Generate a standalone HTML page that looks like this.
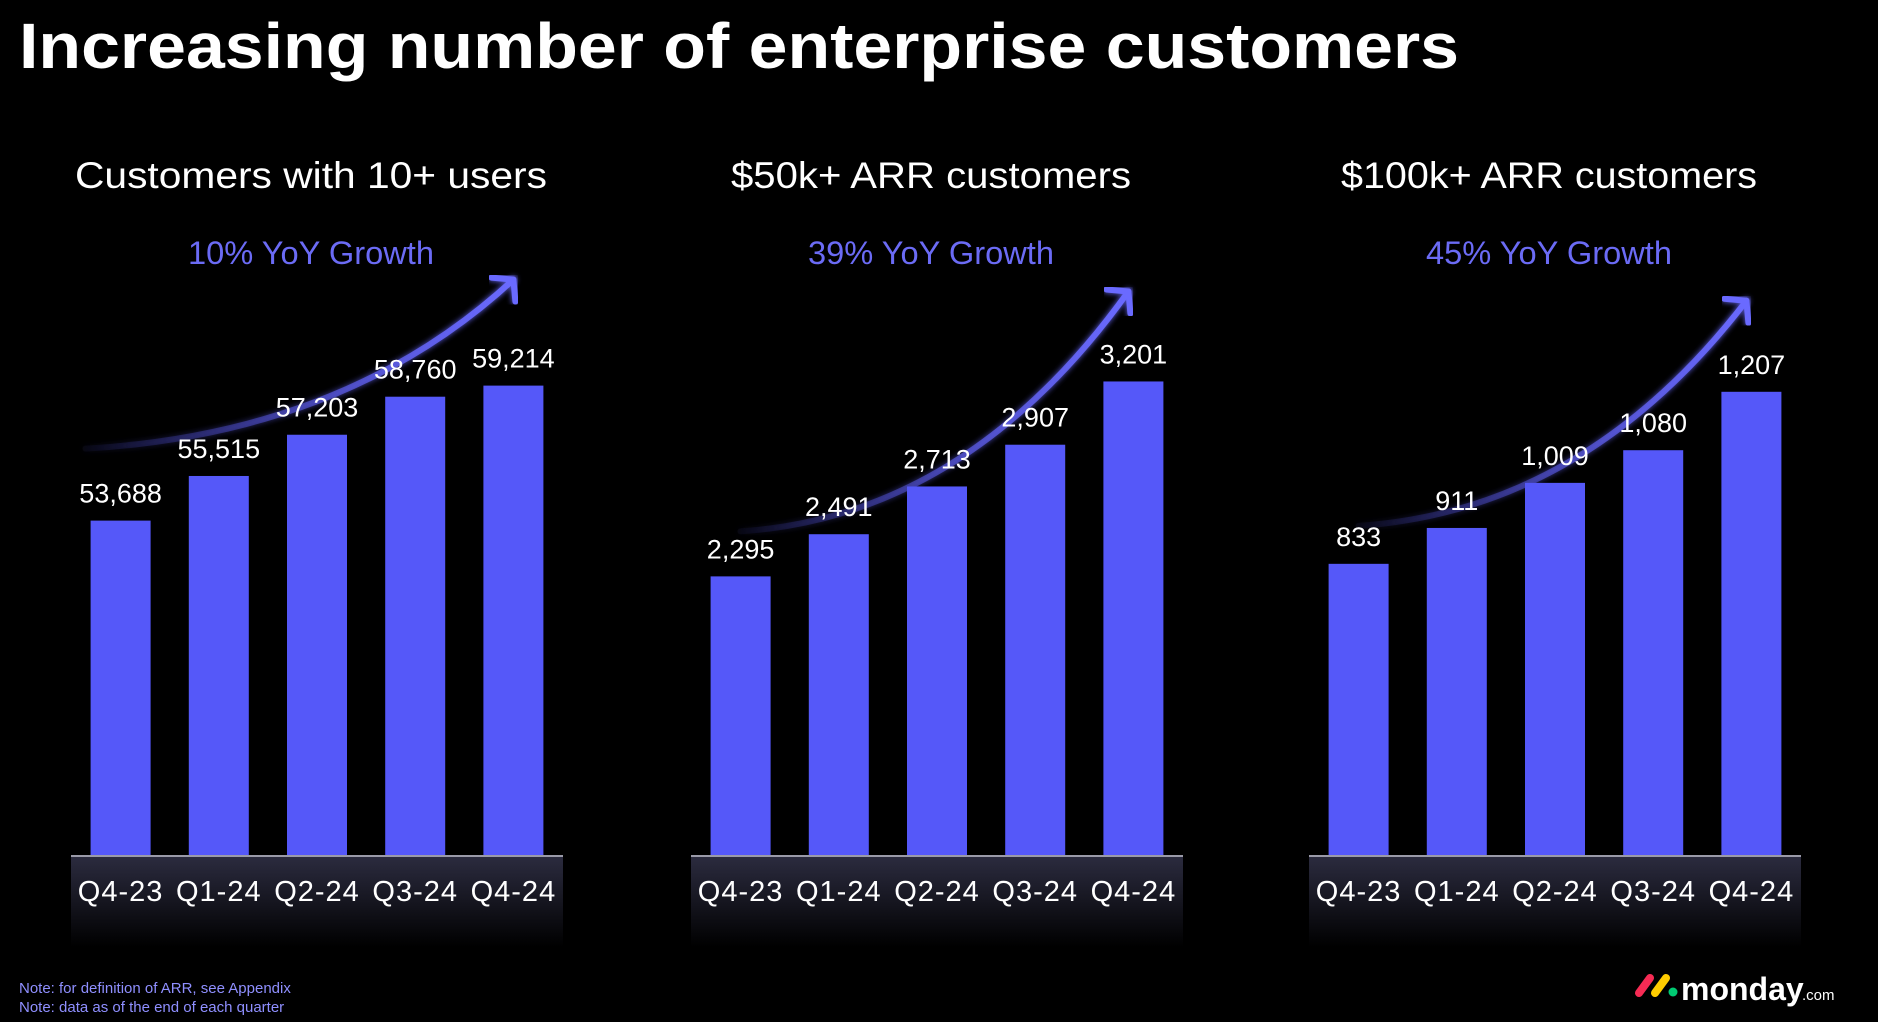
<!DOCTYPE html>
<html><head><meta charset="utf-8">
<style>
html,body{margin:0;padding:0;background:#000;}
body{width:1878px;height:1022px;overflow:hidden;position:relative;font-family:"Liberation Sans",sans-serif;}
svg{position:absolute;left:0;top:0;}
</style></head>
<body>
<svg id="chart" width="1878" height="1022" viewBox="0 0 1878 1022">
<defs>
<linearGradient id="band" x1="0" y1="0" x2="0" y2="1">
<stop offset="0" stop-color="#2c2c40"/><stop offset="1" stop-color="#000"/>
</linearGradient>
<linearGradient id="arr" x1="0" y1="0" x2="1" y2="0">
<stop offset="0" stop-color="#5a5af5" stop-opacity="0.05"/><stop offset="1" stop-color="#6a6aff" stop-opacity="1"/>
</linearGradient>
<filter id="glow"><feGaussianBlur stdDeviation="3" result="b"/><feMerge><feMergeNode in="b"/><feMergeNode in="SourceGraphic"/></feMerge></filter>
</defs>
<text x="19" y="68" fill="#fff" font-size="64" font-weight="bold" textLength="1440" lengthAdjust="spacingAndGlyphs">Increasing number of enterprise customers</text>
<text x="19" y="993" fill="#8f8fff" font-size="15">Note: for definition of ARR, see Appendix</text>
<text x="19" y="1012" fill="#8f8fff" font-size="15">Note: data as of the end of each quarter</text>
<g>
<line x1="1639" y1="993" x2="1650" y2="978" stroke="#f62b54" stroke-width="8" stroke-linecap="round"/>
<line x1="1655" y1="993" x2="1666" y2="978" stroke="#ffcc00" stroke-width="8" stroke-linecap="round"/>
<circle cx="1673" cy="992" r="4.5" fill="#00ca72"/>
<text x="1681" y="1000" fill="#fff" font-size="32" font-weight="bold">monday</text>
<text x="1802" y="1000" fill="#fff" font-size="15">.com</text>
</g>
</svg>
<script>
const categories = ["Q4-23","Q1-24","Q2-24","Q3-24","Q4-24"];
const titles = ["Customers with 10+ users","$50k+ ARR customers","$100k+ ARR customers"];
const growthLabels = ["10% YoY Growth","39% YoY Growth","45% YoY Growth"];
const usersValues = [53688,55515,57203,58760,59214];
const arr50Values = [2295,2491,2713,2907,3201];
const arr100Values = [833,911,1009,1080,1207];
const yMins = [40000,1000,200];
const yMaxes = [60467,3324,1287];

const svg = document.getElementById('chart');
const NS = 'http://www.w3.org/2000/svg';
const centers = [317,937,1555];
const titleLens = [472,400,416];
const arrowStart = [[-35,-72],[0,-45],[0,-38]];
const arrowEnd = [[0,-106],[-5,-90],[-5,-91]];
const baseY = 855, plotH = 500, step = 98.2, barW = 60;
const series = [usersValues, arr50Values, arr100Values];
const names = ['users-10plus','arr-50k','arr-100k'];
function mk(tag, attrs, parent){const e=document.createElementNS(NS,tag);for(const k in attrs)e.setAttribute(k,attrs[k]);(parent||svg).appendChild(e);return e;}

series.forEach((vals, ci) => {
  const xc = centers[ci];
  const yScale = v => baseY - (v - yMins[ci]) / (yMaxes[ci] - yMins[ci]) * plotH;
  const xScale = i => xc + (i - 2) * step;
  const g = mk('g', {});
  
  
  const t = mk('text', {x: xc - 6, y: 188, fill: '#fff', 'font-size': 37, 'text-anchor': 'middle', textLength: titleLens[ci], lengthAdjust: 'spacingAndGlyphs'}, g);
  t.textContent = titles[ci];
  
  
  const gr = mk('text', {x: xc - 6, y: 264, fill: '#6b6bf5', 'font-size': 32, 'text-anchor': 'middle', textLength: 246, lengthAdjust: 'spacingAndGlyphs'}, g);
  gr.textContent = growthLabels[ci];
  
  
  const band = mk('rect', {x: xc - 246, y: baseY, width: 492, height: 92, fill: 'url(#band)'}, g);
  
  
  const al = mk('line', {x1: xc - 246, x2: xc + 246, y1: baseY + 1, y2: baseY + 1, stroke: '#9a9aa8', 'stroke-width': 2}, g);
  
  
  const y0 = yScale(vals[0]), yN = yScale(vals[4]);
  const sx = xScale(0) + arrowStart[ci][0], sy = y0 + arrowStart[ci][1];
  const ex = xScale(4) + arrowEnd[ci][0], ey = yN + arrowEnd[ci][1];
  const cx = xScale(2) + 30, cy = sy - 15;
  const p = mk('path', {d: `M${sx},${sy} Q${cx},${cy} ${ex},${ey}`, fill: 'none', stroke: 'url(#arr)', 'stroke-width': 6, 'stroke-linecap': 'round', filter: 'url(#glow)'}, g);
  
  
  const h = mk('path', {d: `M${ex-22},${ey-2} L${ex},${ey} L${ex+2},${ey+22}`, fill: 'none', stroke: '#6a6aff', 'stroke-width': 6, 'stroke-linecap': 'round', 'stroke-linejoin': 'round', filter: 'url(#glow)'}, g);
  
  
  vals.forEach((v, i) => {
    const y = yScale(v);
    const b = mk('rect', {x: xScale(i) - barW/2, y: y, width: barW, height: baseY - y, fill: '#5558f9'}, g);
    
    
    const l = mk('text', {x: xScale(i), y: y - 18, fill: '#fff', 'font-size': 27, 'text-anchor': 'middle'}, g);
    l.textContent = v.toLocaleString('en-US');
    
    
    const c = mk('text', {x: xScale(i), y: 901, fill: '#fff', 'font-size': 29, 'text-anchor': 'middle', 'letter-spacing': 1}, g);
    c.textContent = categories[i];
    
    
  });
});
</script>
</body></html>
